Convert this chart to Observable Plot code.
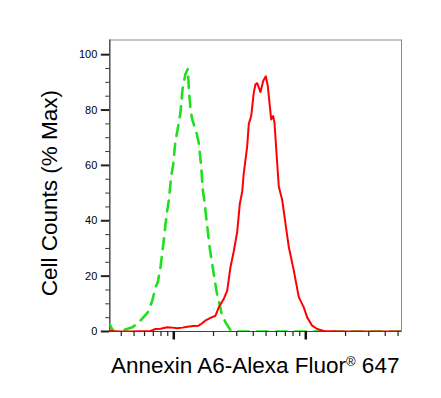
<!DOCTYPE html>
<html>
<head>
<meta charset="utf-8">
<script src="https://cdn.jsdelivr.net/npm/d3@7"></script>
<script src="https://cdn.jsdelivr.net/npm/@observablehq/plot@0.6"></script>
<style>
  html, body { margin: 0; padding: 0; background: #fff; }
  #chart { width: 441px; height: 398px; }
  svg { font-family: "Liberation Sans", Arial, sans-serif; }
</style>
</head>
<body>
<div id="chart"></div>
<script>
// Isotype control (green dashed)
const greenX = [328, 340, 352, 381, 418, 484, 543, 635, 686, 727, 757, 793, 840, 881, 917, 956, 990, 1025, 1091, 1124, 1164, 1226, 1277, 1299, 1338, 1379, 1486, 1547, 1613, 1659, 1709, 1769, 1874, 2034, 2144, 2220, 2299, 2464, 2688, 2934, 6430, 18320, 53000];
const greenY = [2.5, 1.0, 0, 0, 0.5, 1.5, 3.3, 6.9, 11, 16, 17.8, 23.3, 33, 42, 47.5, 56, 60.3, 68.1, 75.4, 79.1, 87.5, 93, 94.8, 88.1, 80.3, 76.6, 71.8, 68.1, 59.6, 51.2, 46.9, 40.3, 30, 19, 12.5, 10, 6.5, 3.3, 0.5, 0, 0, 0, 0];
// Annexin A6 stained (red solid)
const redX = [328, 362, 470, 666, 727, 793, 891, 978, 1061, 1164, 1264, 1410, 1539, 1621, 1739, 1897, 2069, 2192, 2392, 2539, 2688, 2848, 3022, 3162, 3297, 3390, 3598, 3700, 3858, 4037, 4158, 4283, 4537, 4757, 4977, 5153, 5337, 5469, 5662, 5793, 5998, 6244, 6625, 7018, 7434, 8112, 8851, 9656, 10247, 11182, 12203, 13690, 18320, 53000];
const redY = [0.3, 0, 0, 0.2, 0.9, 1.0, 1.5, 1.4, 1.2, 1.4, 1.7, 2.0, 2.1, 2.8, 4.0, 4.9, 5.7, 8.7, 11.8, 14.8, 23.3, 29, 36, 46, 50.5, 57.2, 66.9, 75, 77.8, 86.3, 89.3, 89.7, 86.5, 90.5, 92.2, 88.7, 81.5, 76.6, 77.8, 75.4, 64.5, 52.4, 47.5, 39, 30.5, 22, 12.4, 8.7, 5.1, 2.1, 0.9, 0.2, 0, 0];

const xDomain = [327.5, 53090];
const yDomain = [0, 105.3];
const yMajorTicks = [0, 20, 40, 60, 80, 100];
const yMinorTicks = [5, 10, 15, 25, 30, 35, 45, 50, 55, 65, 70, 75, 85, 90, 95];
const xMajorTicks = [1000, 10000];
const xMinorTicks = [400, 500, 600, 700, 800, 900, 2000, 3000, 4000, 5000, 6000, 7000, 8000, 9000, 20000, 30000, 40000, 50000];
const yTitle = "Cell Counts (% Max)";
const xTitle = "Annexin A6-Alexa Fluor® 647";

const green = greenX.map((x, i) => ({x, y: greenY[i]}));
const red = redX.map((x, i) => ({x, y: redY[i]}));

const chart = Plot.plot({
  width: 441,
  height: 398,
  marginLeft: 109.3,
  marginRight: 40,
  marginTop: 39.5,
  marginBottom: 67,
  style: {background: "#fff", fontFamily: "Liberation Sans, Arial, sans-serif", color: "#000"},
  x: {type: "log", domain: xDomain, axis: null},
  y: {domain: yDomain, axis: null},
  marks: [
    Plot.frame({stroke: "#8a8a8a", strokeWidth: 1}),
    Plot.ruleX([xDomain[0]], {stroke: "#444", strokeWidth: 1.2}),
    Plot.ruleY([yDomain[0]], {stroke: "#444", strokeWidth: 1.2}),
    Plot.axisY(yMinorTicks, {anchor: "left", tickSize: 4, stroke: "#333", strokeWidth: 1, tickFormat: () => "", label: null}),
    Plot.axisY(yMajorTicks, {anchor: "left", tickSize: 8.5, tickPadding: 4, stroke: "#222", strokeWidth: 2, fontSize: 11, fill: "#000", label: null}),
    Plot.axisX(xMinorTicks, {anchor: "bottom", tickSize: 5, stroke: "#222", strokeWidth: 1.2, tickFormat: () => "", label: null}),
    Plot.axisX(xMajorTicks, {anchor: "bottom", tickSize: 8.5, stroke: "#111", strokeWidth: 2.5, tickFormat: () => "", label: null}),
    Plot.line(green, {x: "x", y: "y", stroke: "#1fe01f", strokeWidth: 2.6, strokeDasharray: "11,8", clip: true}),
    Plot.line(red, {x: "x", y: "y", stroke: "#ff0000", strokeWidth: 2, clip: true}),
    Plot.text([yTitle], {text: d => d, frameAnchor: "left", textAnchor: "middle", lineAnchor: "middle", rotate: -90, dx: -60.3, dy: 7.3, fontSize: 22.5, fill: "#000"}),
    Plot.text([xTitle], {text: d => d, frameAnchor: "bottom", textAnchor: "middle", lineAnchor: "middle", dx: -0.5, dy: 34, fontSize: 22.5, fill: "#000"})
  ]
});

document.getElementById("chart").appendChild(chart);

// render the registered sign as a small superscript
d3.select(chart).selectAll("text").each(function() {
  const t = d3.select(this);
  const s = t.text();
  if (s.includes("®")) {
    const [a, b] = s.split("®");
    t.text(null);
    t.append("tspan").text(a);
    t.append("tspan").attr("font-size", "13px").attr("dy", "-7px").text("®");
    t.append("tspan").attr("dy", "7px").text(b);
  }
});
</script>
</body>
</html>
